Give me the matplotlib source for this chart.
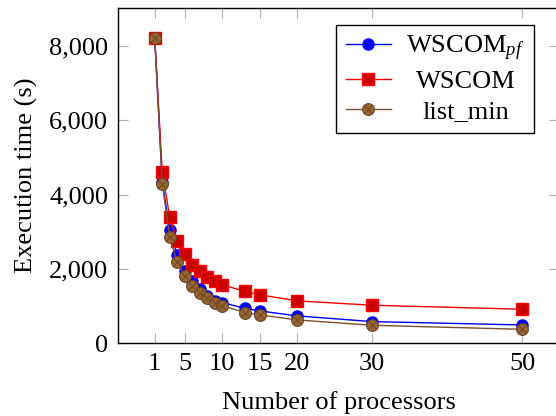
import matplotlib
matplotlib.use("Agg")
import matplotlib.pyplot as plt
from matplotlib.ticker import StrMethodFormatter
from matplotlib.legend_handler import HandlerTuple

plt.rcParams['font.family'] = ['Liberation Serif', 'DejaVu Serif']
plt.rcParams['mathtext.fontset'] = 'custom'
plt.rcParams['mathtext.rm'] = 'Liberation Serif'
plt.rcParams['mathtext.it'] = 'Liberation Serif:italic'
plt.rcParams['font.size'] = 19

# number of processors
procs = [1, 2, 3, 4, 5, 6, 7, 8, 9, 10, 13, 15, 20, 30, 50]

# execution times (s)
wscom_pf = [8220, 4340, 3050, 2360, 1950, 1660, 1450, 1270, 1145, 1090, 935, 865, 730, 577, 486]
wscom = [8220, 4610, 3390, 2760, 2400, 2110, 1930, 1775, 1660, 1570, 1390, 1300, 1135, 1018, 910]
list_min = [8220, 4290, 2860, 2180, 1795, 1525, 1345, 1205, 1090, 1010, 820, 757, 622, 477, 369]

xticks = [1, 5, 10, 15, 20, 30, 50]
yticks = [0, 2000, 4000, 6000, 8000]

W, H = 556, 416
fig = plt.figure(figsize=(W / 100, H / 100), dpi=100)
# right edge of the axis box falls just outside the picture
ax = fig.add_axes([118 / W, (H - 343) / H, (559 - 118) / W, (343 - 8) / H])

l1, = ax.plot(procs, wscom_pf, color='blue', lw=1.0, marker='o', ms=8,
              mfc='blue', mec='blue')
l2, = ax.plot(procs, wscom, color='red', lw=1.0, marker='s', ms=8,
              mfc='#cc0000', mec='red')
l3, = ax.plot(procs, list_min, color='#7a5232', lw=1.0, marker='o', ms=8.5,
              mfc='#996633', mec='#6b4422', mew=0.8)
l3x, = ax.plot(procs, list_min, ls='none', marker='x', ms=6,
               mec='#6b4422', mew=0.7)

ax.set_xlim(-3.9, 54.9)
ax.set_ylim(0, 9030)
ax.set_xticks(xticks)
ax.set_yticks(yticks)
ax.yaxis.set_major_formatter(StrMethodFormatter('{x:,.0f}'))

ax.tick_params(direction='in', length=7, width=0.8, color='#b0b0b0',
               top=True, right=True)
ax.tick_params(axis='x', pad=7)
ax.tick_params(axis='y', pad=7)
for s in ax.spines.values():
    s.set_linewidth(1.0)

ax.set_xlabel('Number of processors', labelpad=12)
ax.set_ylabel('Execution time (s)', labelpad=8)

leg = ax.legend([l1, l2, (l3, l3x)], [r'WSCOM$_{pf}$', 'WSCOM', 'list_min'],
                handler_map={tuple: HandlerTuple(ndivide=1)},
                loc='upper right', bbox_to_anchor=(534 / W, 1 - 25 / H),
                bbox_transform=fig.transFigure, borderaxespad=0,
                fancybox=False, framealpha=1, edgecolor='black',
                handlelength=1.7, handletextpad=0.6, labelspacing=0.25,
                borderpad=0.35)
leg.get_frame().set_linewidth(1.0)

# center the legend texts like pgfplots does
fig.canvas.draw()
texts = leg.get_texts()
widths = [t.get_window_extent().width for t in texts]
wmax = max(widths)
for t, w in zip(texts, widths):
    t.set_position(((wmax - w) / 2, 0))

fig.savefig('out.png', dpi=100)
